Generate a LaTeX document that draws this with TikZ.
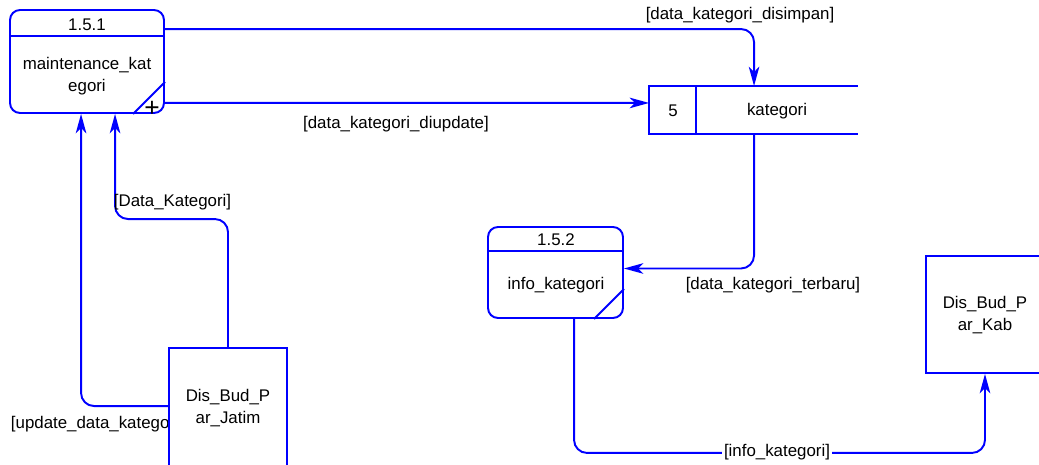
\documentclass[tikz,border=0pt]{standalone}
\usepackage{fontspec}
\setmainfont{Liberation Sans}
\usetikzlibrary{positioning, calc, arrows.meta}

\begin{document}
\begin{tikzpicture}[x=0.02cm, y=-0.02cm, line width=1.1pt,
    every node/.style={font=\fontsize{9.6}{12.5}\selectfont, inner sep=0pt, align=center},
    proc/.style={draw=blue, fill=white, rounded corners=0.2cm},
    ext/.style={draw=blue, fill=white},
    edge/.style={draw=blue},
    flow/.style={draw=blue, rounded corners=0.26cm, -{Stealth[length=11pt,width=6pt,inset=3pt]}}]
    % picture frame
    \clip (0,0) rectangle (1039,465);

    % process 1.5.1
    \node[proc, minimum width=3.08cm, minimum height=2.06cm] (p151) at (87,61.5) {};
    \draw[edge] ($(p151.north west)+(0,27)$) -- ($(p151.north east)+(0,27)$);
    \draw[edge] ($(p151.south east)+(-32,0)$) -- ($(p151.south east)+(0,-32)$);
    \node (p151id) at (87,25) {1.5.1};
    \node (p151name) at (87,76) {maintenance\_kat\\egori};
    \node[font=\fontsize{15}{15}\selectfont] (p151plus) at (152,109) {+};

    % data store 5
    \node[minimum width=4.14cm, minimum height=0.92cm] (s5) at (753.5,110) {};
    \draw[edge] (s5.north east) -- (s5.north west) -- (s5.south west) -- (s5.south east);
    \draw[edge] ($(s5.north west)+(47,0)$) -- ($(s5.south west)+(47,0)$);
    \node (s5id) at (673,111) {5};
    \node (s5name) at (777,111) {kategori};

    % process 1.5.2
    \node[proc, minimum width=2.7cm, minimum height=1.82cm] (p152) at (555.5,272.5) {};
    \draw[edge] ($(p152.north west)+(0,25)$) -- ($(p152.north east)+(0,25)$);
    \draw[edge] ($(p152.south east)+(-30,0)$) -- ($(p152.south east)+(0,-30)$);
    \node (p152id) at (556,240) {1.5.2};
    \node (p152name) at (556,285) {info\_kategori};

    % external entity Dis_Bud_Par_Kab
    \node[ext, minimum width=2.36cm, minimum height=2.34cm] (kab) at (985,314.5) {};
    \node (kabname) at (985,315) {Dis\_Bud\_P\\ar\_Kab};

    % flows 1.5.1 -> store 5
    \draw[flow] ($(p151.north east)+(0,20)$) -| ($(s5.north west)+(105,0)$);
    \node (lSimpan) at (740,15) {[data\_kategori\_disimpan]};
    \draw[flow] ($(p151.south east)+(0,-11)$) -- ($(s5.south west)+(0,-31)$);
    \node (lDiupdate) at (396,124) {[data\_kategori\_diupdate]};

    % flow store 5 -> 1.5.2
    \draw[flow] ($(s5.south west)+(105,0)$) |- ($(p152.east)+(0,-4)$);
    \node (lTerbaru) at (773,285) {[data\_kategori\_terbaru]};

    % flow 1.5.2 -> Dis_Bud_Par_Kab
    \draw[flow] ($(p152.south west)+(87,0)$) |- ($(kab.south)+(0,79)$) -- (kab.south);
    \node[fill=white, inner xsep=1pt] (lInfo) at (777,452) {[info\_kategori]};

    % external entity Dis_Bud_Par_Jatim and its flows
    \node[anchor=west] (lUpdate) at (10,424) {[update\_data\_kategori]};
    \node[ext, minimum width=2.36cm, minimum height=2.68cm] (jatim) at (228,415) {};
    \node (jatimname) at (228,408) {Dis\_Bud\_P\\ar\_Jatim};
    \draw[flow] ($(jatim.north west)+(0,59)$) -| ($(p151.south west)+(72,0)$);
    \draw[flow] (jatim.north) -- ++(0,-128) -| ($(p151.south west)+(106,0)$);
    \node[anchor=west] (lDataKat) at (113,202) {[Data\_Kategori]};

\end{tikzpicture}
\end{document}
